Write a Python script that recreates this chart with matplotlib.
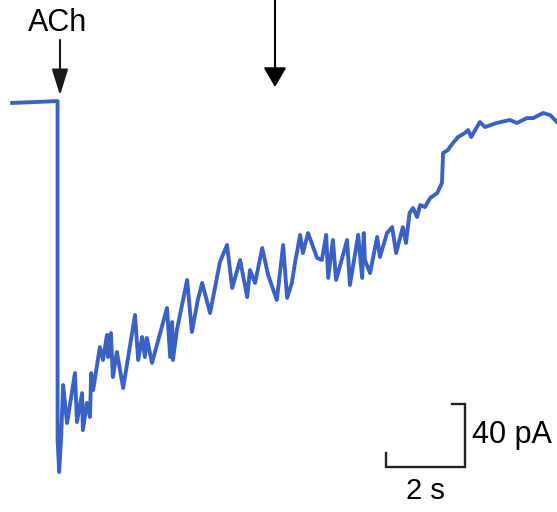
import matplotlib
matplotlib.use("Agg")
import matplotlib.pyplot as plt

# Trace: time (s, ACh onset = 0) and current (pA, baseline = 0)
time_s = [-1.16, -0.58, -0.01, -0.01, 0.03, 0.08, 0.13, 0.23, 0.43, 0.48, 0.61, 0.63,
          0.73, 0.81, 0.84, 0.89, 1.06, 1.14, 1.24, 1.27, 1.34, 1.39, 1.49, 1.65,
          1.95, 2.03, 2.13, 2.20, 2.25, 2.38, 2.76, 2.84, 2.89, 2.91, 3.01, 3.27,
          3.39, 3.54, 3.65, 3.85, 4.10, 4.28, 4.41, 4.61, 4.79, 4.86, 4.99, 5.17,
          5.32, 5.54, 5.70, 5.80, 5.92, 6.00, 6.13, 6.20, 6.33, 6.56, 6.68, 6.79,
          6.84, 6.96, 7.04, 7.32, 7.39, 7.60, 7.70, 7.74, 7.77, 7.90, 8.08, 8.15,
          8.33, 8.46, 8.56, 8.73, 8.81, 8.90, 8.99, 9.09, 9.17, 9.29, 9.42, 9.60,
          9.72, 9.75, 9.87, 10.00, 10.13, 10.30, 10.38, 10.46, 10.68, 10.81, 11.11,
          11.44, 11.62, 11.87, 12.03, 12.28, 12.46, 12.63]
current_pA = [-0.6, 0.0, 0.6, -214.6, -234.9, -212.7, -179.7, -203.8, -172.1, -203.2, -184.8, -208.3,
              -191.1, -200.0, -172.1, -182.9, -155.6, -163.8, -147.9, -161.9, -146.7, -174.6, -158.7, -181.6,
              -135.2, -163.8, -149.2, -161.9, -149.8, -165.7, -130.8, -161.9, -139.7, -163.8, -144.8, -113.0,
              -146.0, -125.7, -114.9, -134.0, -101.6, -90.8, -118.1, -100.3, -123.8, -106.7, -114.9, -92.7,
              -109.8, -125.7, -90.8, -124.4, -114.9, -102.2, -84.4, -95.9, -83.2, -99.0, -100.3, -84.4,
              -111.7, -87.6, -113.0, -87.6, -116.2, -84.4, -111.7, -83.2, -100.3, -108.6, -85.7, -98.4,
              -83.2, -79.4, -95.9, -79.4, -89.5, -70.5, -67.3, -73.0, -65.4, -66.7, -61.0, -57.8,
              -51.4, -32.4, -30.5, -26.0, -22.2, -19.7, -17.8, -22.2, -12.7, -15.9, -13.3,
              -11.4, -13.3, -10.2, -10.2, -7.0, -8.3, -12.7]

# Scale bar values
bar_time_s = 2.0
bar_current_pA = 40.0
bar_origin = (8.30, -231.7)
bar_time_label = "2 s"
bar_current_label = "40 pA"
stim_label = "ACh"

trace_color = "#3a62c6"

fig = plt.figure(figsize=(5.57, 5.12), dpi=100)
ax = fig.add_axes([0, 0, 1, 1])
ax.set_xlim(-1.468, 12.633)
ax.set_ylim(-260.3, 64.76)
ax.axis("off")

ax.plot(time_s, current_pA, color=trace_color, lw=2.8, solid_joinstyle="round")

# Scale bar
x0, y0 = bar_origin
x1 = x0 + bar_time_s
y1 = y0 + bar_current_pA
ax.plot([x0, x0, x1, x1, x1 - 0.33], [y0 + 9, y0, y0, y1, y1], color="#2a2020", lw=1.7,
        solid_joinstyle="miter")
ax.annotate(bar_current_label, xy=(x1, (y0 + y1) / 2), xytext=(5, 0), textcoords="offset points",
            ha="left", va="center", fontsize=22, family="Liberation Sans")
ax.annotate(bar_time_label, xy=((x0 + x1) / 2, y0), xytext=(0, -17), textcoords="offset points",
            ha="center", va="center", fontsize=21, family="Liberation Sans")

# Stimulus label and arrows
ax.text(0.104, 0.955, stim_label, transform=ax.transAxes, ha="center", va="center",
        fontsize=22, family="Liberation Sans")
ax.annotate("", xy=(0.1077, 0.814), xytext=(0.1077, 0.922), xycoords="axes fraction",
            textcoords="axes fraction",
            arrowprops=dict(arrowstyle="-|>,head_length=1.6,head_width=0.5", mutation_scale=10,
                            color="#1a1a1a", lw=1.5, shrinkA=0, shrinkB=0))
ax.annotate("", xy=(0.4937, 0.830), xytext=(0.4937, 1.0), xycoords="axes fraction",
            textcoords="axes fraction",
            arrowprops=dict(arrowstyle="-|>,head_length=1.2,head_width=0.7", mutation_scale=10,
                            color="black", lw=1.5, shrinkA=0, shrinkB=0))

fig.savefig("out.png", dpi=100, facecolor="white")
